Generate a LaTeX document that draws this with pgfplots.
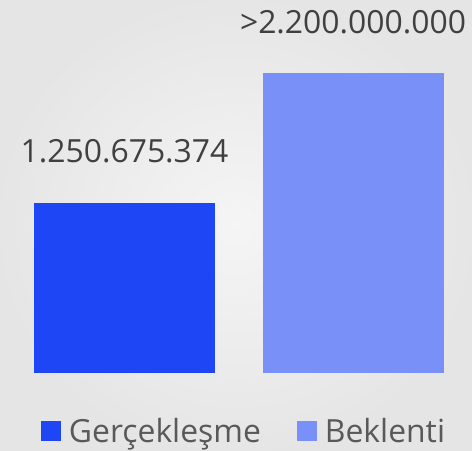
\documentclass[border=0pt]{standalone}
\usepackage{fontspec}
\setmainfont{Open Sans}
\usepackage{pgfplots}
\pgfplotsset{compat=1.18}
\definecolor{barA}{HTML}{1E46F5}
\definecolor{barB}{HTML}{7890F8}
\definecolor{lbl}{HTML}{404040}
\definecolor{leg}{HTML}{595959}
\begin{document}
\begin{tikzpicture}
\shade[inner color=black!4, outer color=black!10] (0bp,-78.3bp) rectangle (472bp,372.7bp);
\begin{axis}[scale only axis, width=472bp, height=372.7bp,
  at={(0,0)}, anchor=south west,
  xmin=-0.5449, xmax=1.5208, ymin=0, ymax=2.7404,
  hide axis, clip=false,
  ybar, bar width=181bp, bar shift=0pt,
  nodes near coords, point meta=explicit symbolic,
  every node near coord/.append style={font=\fontsize{32}{38}\selectfont, text=lbl, anchor=south, yshift=36bp},
  legend columns=2,
  legend style={at={(0.517,-0.156)}, anchor=center, draw=none, fill=none,
    font=\fontsize{32}{38}\selectfont, text=leg,
    /tikz/every odd column/.append style={column sep=6bp},
    /tikz/every even column/.append style={column sep=34bp}},
  legend image code/.code={\fill[#1] (0bp,-10bp) rectangle (20bp,10bp);}]
\addplot[fill=barA, draw=none] coordinates {(0,1.250675374) [1.250.675.374]};
\addlegendentry{Gerçekleşme}
\addplot[fill=barB, draw=none] coordinates {(1,2.2) [>2.200.000.000]};
\addlegendentry{Beklenti}
\end{axis}
\end{tikzpicture}
\end{document}
